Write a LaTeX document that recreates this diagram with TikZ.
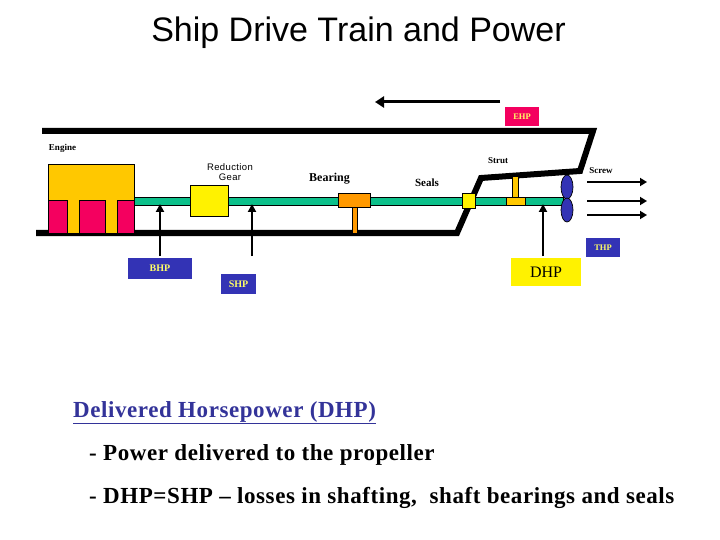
\documentclass[tikz,border=0pt]{standalone}
\usepackage{fontspec}
\setmainfont{Liberation Serif}
\newfontfamily\arialf{Liberation Sans}
\newfontfamily\bodyf[LetterSpace=2.5]{Liberation Serif}
\newfontfamily\gearf[LetterSpace=4]{Liberation Sans}
\usetikzlibrary{arrows.meta,calc,shapes.geometric}
\definecolor{engineorange}{HTML}{FFC800}
\definecolor{crimsonp}{HTML}{F4005F}
\definecolor{shaftgreen}{HTML}{0CC08A}
\definecolor{bearingor}{HTML}{FF9900}
\definecolor{bluebox}{HTML}{3333B5}
\definecolor{labelyellow}{HTML}{FFFF66}
\definecolor{headblue}{HTML}{333399}
\newcommand{\partbox}[6]{\node[part,#2,minimum width=#5pt-#3pt,minimum height=#6pt-#4pt] (#1) at ({(#3+#5)/2},{(#4+#6)/2}) {};}
\newcommand{\tagbox}[7]{\node[tagb,#2,minimum width=#5pt-#3pt,minimum height=#6pt-#4pt] (#1) at ({(#3+#5)/2},{(#4+#6)/2}) {#7};}
\begin{document}
\begin{tikzpicture}[x=1pt,y=-1pt,
  part/.style={draw=black,line width=0.7pt,inner sep=0pt,outer sep=0pt},
  tagb/.style={inner sep=0pt,outer sep=0pt},
  hull/.style={line width=6pt,line join=miter,black},
  flow/.style={line width=2pt,-{Triangle[length=8pt,width=8pt]}},
  thrust/.style={line width=2pt,-{Triangle[length=7pt,width=8pt]}},
  small/.style={font=\bfseries\fontsize{9}{9}\selectfont,inner sep=0pt},
  label/.style={font=\bfseries\fontsize{11}{12}\selectfont,inner sep=0pt},
  body/.style={font=\bodyf\bfseries\fontsize{23}{24}\selectfont,inner sep=0pt,anchor=base west}]
\useasboundingbox (0,0) rectangle (720,540);
\node[font=\arialf\fontsize{34}{36}\selectfont,inner sep=0pt] (title) at (358.5,33) {Ship Drive Train and Power};
% hull
\coordinate (h1) at (42,131);\coordinate (h2) at (593,131);\coordinate (h3) at (580,171);
\coordinate (h4) at (481,178);\coordinate (h5) at (457,233);\coordinate (h6) at (36,233);
\draw[hull] (h1) -- (h2) -- (h3) -- (h4) -- (h5) -- (h6);
% shaft
\partbox{shaft}{fill=shaftgreen}{134}{197}{563}{205}
% engine
\partbox{engine}{fill=engineorange}{48}{164}{134}{233}
\partbox{cyl1}{fill=crimsonp}{48}{200}{67}{233}
\partbox{cyl2}{fill=crimsonp}{79}{200}{105}{233}
\partbox{cyl3}{fill=crimsonp}{117}{200}{134}{233}
% gear, bearing, seal, strut
\partbox{gear}{fill=yellow}{190}{185}{228}{216}
\partbox{bearstem}{fill=bearingor}{352}{207}{357}{233}
\partbox{bearing}{fill=bearingor}{338}{193}{370}{207}
\partbox{seal}{fill=yellow}{462}{193}{475}{208}
\partbox{strutstem}{fill=engineorange}{512}{176}{518}{197}
\partbox{strut}{fill=engineorange}{506}{197}{525}{205}
% propeller
\node[part,ellipse,fill=bluebox,minimum width=12pt,minimum height=24pt] (prop1) at (567,187) {};
\node[part,ellipse,fill=bluebox,minimum width=12pt,minimum height=24pt] (prop2) at (567,210) {};
% tags
\tagbox{ehp}{fill=crimsonp,text=labelyellow,font=\bfseries\fontsize{8.5}{9}\selectfont}{505}{107}{539}{126}{EHP}
\tagbox{thp}{fill=bluebox,text=labelyellow,font=\bfseries\fontsize{8.5}{9}\selectfont}{586}{238}{620}{257}{THP}
\tagbox{bhp}{fill=bluebox,text=labelyellow,font=\bfseries\fontsize{10}{10}\selectfont}{128}{258}{192}{279}{BHP}
\tagbox{shp}{fill=bluebox,text=labelyellow,font=\bfseries\fontsize{10}{10}\selectfont}{221}{274}{256}{294}{SHP}
\tagbox{dhp}{fill=yellow,font=\fontsize{16}{16}\selectfont}{511}{258}{581}{286}{DHP}
% power arrows
\coordinate (bhptip) at (160,204);\coordinate (shptip) at (252,204);\coordinate (dhptip) at (543,204);
\coordinate (bhpfoot) at (160,256);\coordinate (shpfoot) at (252,256);\coordinate (dhpfoot) at (543,256);
\draw[flow] (bhpfoot) -- (bhptip);
\draw[flow] (shpfoot) -- (shptip);
\draw[flow] (dhpfoot) -- (dhptip);
% thrust direction
\coordinate (ta) at (500,102);\coordinate (tb) at (375,102);
\draw[line width=3pt,-{Triangle[length=9pt,width=11pt]}] (ta) -- (tb);
% wake arrows
\foreach \n/\yy in {a/182,b/201,c/215}{
  \coordinate (w\n s) at (587,\yy);\coordinate (w\n e) at (647,\yy);
  \draw[thrust] (w\n s) -- (w\n e);}
% labels
\node[small] (lengine) at (62.5,148) {Engine};
\node[font=\gearf\fontsize{9.5}{10.5}\selectfont,align=center,inner sep=0pt] (lgear) at (230,172) {Reduction\\Gear};
\node[label,font=\bfseries\fontsize{12}{12}\selectfont] (lbearing) at (329.5,179) {Bearing};
\node[label] (lseals) at (427,183) {Seals};
\node[small] (lstrut) at (498,161) {Strut};
\node[small] (lscrew) at (601,171) {Screw};
% text block
\node[body,text=headblue] (t1) at (73,417) {\underline{Delivered Horsepower (DHP)}};
\node[body] (t2) at (89,460) {- Power delivered to the propeller};
\node[body] (t3) at (89,503) {- DHP=SHP – losses in shafting,\ \ shaft bearings and seals};
\end{tikzpicture}
\end{document}
